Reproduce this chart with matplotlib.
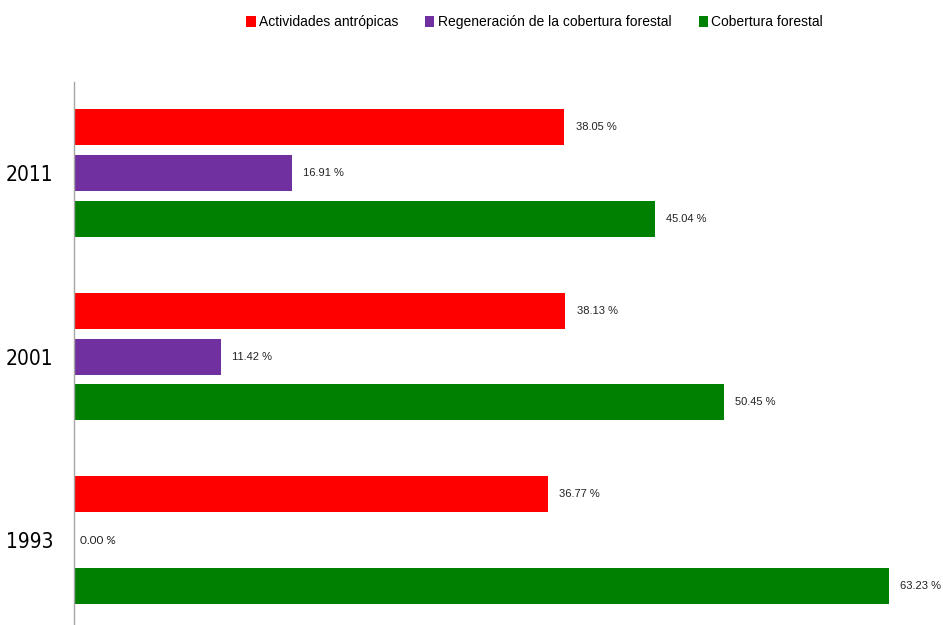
import numpy as np
import matplotlib.pyplot as plt
from matplotlib.patches import Patch

years = ["1993", "2001", "2011"]
series = ["Actividades antrópicas", "Regeneración de la cobertura forestal", "Cobertura forestal"]
antropicas = [36.77, 38.13, 38.05]
regeneracion = [0.00, 11.42, 16.91]
cobertura = [63.23, 50.45, 45.04]
colors = ["#FF0000", "#7030A0", "#008000"]

sans = ["Liberation Sans", "DejaVu Sans"]

fig = plt.figure(figsize=(9.43, 6.25), dpi=100)
ax = fig.add_axes([74 / 943, 0, 1 - 74 / 943, 1 - 82 / 625])

y = np.arange(len(years))
height = 0.196
step = 0.25
for k, (vals, col) in enumerate(zip([antropicas, regeneracion, cobertura], colors)):
    pos = y + step * (1 - k)
    ax.barh(pos, vals, height=height, color=col, edgecolor="none")
    for p, v in zip(pos, vals):
        if v == 0:
            # empty bar: label sits right against the axis
            ax.annotate(f"{v:.2f} %", (v, p), xytext=(4.5, 0), textcoords="offset points",
                        va="center", ha="left", fontsize=8.5, family=["Lato", "DejaVu Sans"],
                        color="#222222")
        else:
            ax.annotate(f"{v:.2f} %", (v, p), xytext=(8, 0), textcoords="offset points",
                        va="center", ha="left", fontsize=8, family=sans, color="#222222")

ax.set_xlim(0, (943 - 74) / 12.89)
ax.set_ylim(-0.463, 2.496)
ax.set_yticks(y)
ax.set_yticklabels(years, fontsize=15, family=["DejaVu Sans"], fontstretch="condensed")
ax.tick_params(axis="y", length=0, pad=15)
ax.set_xticks([])
for side in ["top", "right", "bottom"]:
    ax.spines[side].set_visible(False)
ax.spines["left"].set_color("#a6a6a6")
ax.spines["left"].set_linewidth(1)

handles = [Patch(facecolor=c, edgecolor="none") for c in colors]
fig.legend(handles, series, loc="center", bbox_to_anchor=(0.567, 0.965), ncol=3,
           frameon=False, prop={"family": sans, "size": 10},
           handlelength=0.65, handleheight=0.85, handletextpad=0.25, columnspacing=1.95)

fig.savefig("out.png", dpi=100)
